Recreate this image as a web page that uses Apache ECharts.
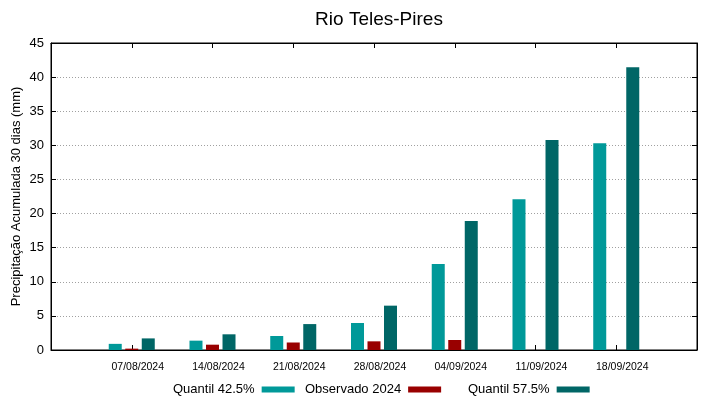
<!DOCTYPE html>
<html>
<head>
<meta charset="utf-8">
<script src="https://cdn.jsdelivr.net/npm/echarts@6/dist/echarts.min.js"></script>
<style>
html,body{margin:0;padding:0;background:#fff;}
#c{width:719px;height:399px;}
</style>
</head>
<body>
<div id="c"></div>
<script>
const categories = ['07/08/2024','14/08/2024','21/08/2024','28/08/2024','04/09/2024','11/09/2024','18/09/2024'];
const quantil425 = [0.9, 1.37, 2.05, 3.96, 12.6, 22.1, 30.3];
const observado2024 = [0.2, 0.78, 1.1, 1.27, 1.47, null, null];
const quantil575 = [1.7, 2.3, 3.8, 6.5, 18.9, 30.8, 41.45];
const yTicks = [0, 5, 10, 15, 20, 25, 30, 35, 40, 45];

const FONT = 'Liberation Sans, Arial, sans-serif';
const axisCats = [''].concat(categories, ['']);
const pad = arr => [null].concat(arr, [null]);
const tickFilter = (i) => i > 0 && i < axisCats.length - 1;

const chart = echarts.init(document.getElementById('c'));
chart.setOption({
  animation: false,
  backgroundColor: '#fff',
  title: {
    text: 'Rio Teles-Pires',
    left: 374, top: 5, textAlign: 'center',
    textStyle: {fontFamily: FONT, fontSize: 19, fontWeight: 'normal', color: '#000'}
  },
  legend: [
    {data: ['Quantil 42.5%'], left: 173},
    {data: ['Observado 2024'], left: 305},
    {data: ['Quantil 57.5%'], left: 468}
  ].map(l => Object.assign(l, {
    top: 383, padding: 0, align: 'right', icon: 'rect',
    itemWidth: 33, itemHeight: 6, selectedMode: false,
    textStyle: {fontFamily: FONT, fontSize: 13, color: '#000', padding: [0, 2, 0, 0]}
  })),
  grid: {left: 51, right: 22, top: 43, bottom: 49, show: true, borderColor: '#000', borderWidth: 1,
         containLabel: false, outerBoundsMode: 'none'},
  xAxis: [
    {
      type: 'category', data: axisCats, boundaryGap: false, position: 'bottom',
      axisLine: {show: true, lineStyle: {color: '#000', width: 1}},
      axisTick: {show: true, inside: true, length: 5, interval: tickFilter, lineStyle: {color: '#000'}},
      axisLabel: {interval: 0, fontFamily: FONT, fontSize: 10.5, color: '#000', margin: 12, padding: [0, 0, 0, 12]},
      splitLine: {show: false}
    },
    {
      type: 'category', data: axisCats, boundaryGap: false, position: 'top',
      axisLine: {show: true, onZero: false, lineStyle: {color: '#000', width: 1}},
      axisTick: {show: true, inside: true, length: 5, interval: tickFilter, lineStyle: {color: '#000'}},
      axisLabel: {show: false},
      splitLine: {show: false}
    }
  ],
  yAxis: [
    {
      type: 'value', min: yTicks[0], max: yTicks[yTicks.length - 1], interval: 5, position: 'left',
      name: 'Precipitação Acumulada 30 dias (mm)', nameLocation: 'middle', nameGap: 28,
      nameMoveOverlap: false,
      nameTextStyle: {fontFamily: FONT, fontSize: 13, color: '#000'},
      axisLine: {show: true, onZero: false, lineStyle: {color: '#000', width: 1}},
      axisTick: {show: true, inside: true, length: 5, lineStyle: {color: '#000'}},
      axisLabel: {fontFamily: FONT, fontSize: 13, color: '#000', margin: 7},
      splitLine: {show: true, lineStyle: {color: '#a0a0a0', type: [1, 2], width: 1}}
    },
    {
      type: 'value', min: yTicks[0], max: yTicks[yTicks.length - 1], interval: 5, position: 'right',
      axisLine: {show: true, onZero: false, lineStyle: {color: '#000', width: 1}},
      axisTick: {show: true, inside: true, length: 5, lineStyle: {color: '#000'}},
      axisLabel: {show: false},
      splitLine: {show: false}
    }
  ],
  series: [
    {name: 'Quantil 42.5%', type: 'bar', data: pad(quantil425), barWidth: 13, barGap: '27%', itemStyle: {color: '#009999'}},
    {name: 'Observado 2024', type: 'bar', data: pad(observado2024), barWidth: 13, barGap: '27%', itemStyle: {color: '#990000'}},
    {name: 'Quantil 57.5%', type: 'bar', data: pad(quantil575), barWidth: 13, barGap: '27%', itemStyle: {color: '#006666'}}
  ]
});
</script>
</body>
</html>
